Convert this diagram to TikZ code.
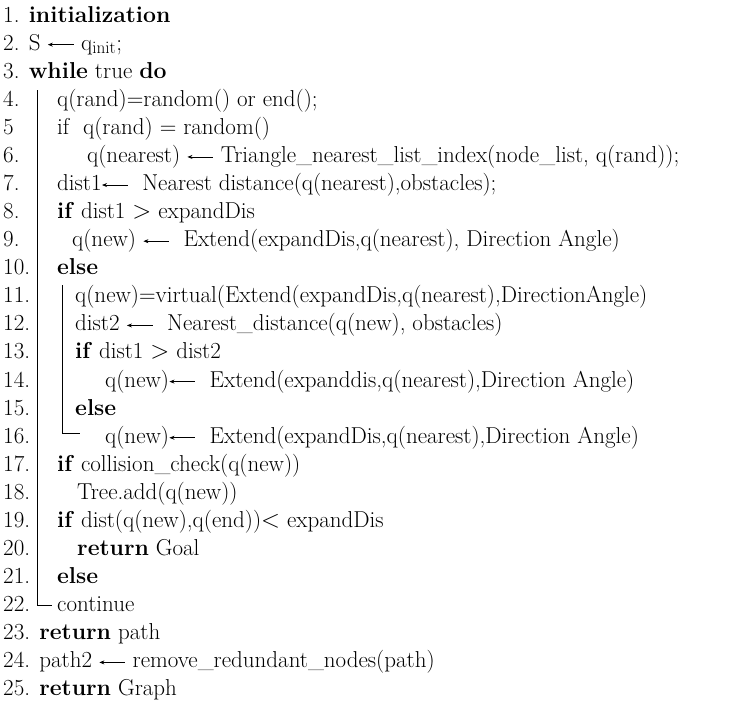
\documentclass[tikz,border=0pt]{standalone}
\usetikzlibrary{arrows.meta}
\newcommand\myarr{\tikz[baseline=-0.55ex]\draw[{Stealth[length=5pt,width=4pt]}-,line width=0.7pt](0,0)--(26pt,0);}
\begin{document}
\begin{tikzpicture}[x=1pt,y=1pt,
  ln/.style={anchor=base west,inner sep=0pt,font=\fontsize{23}{27}\selectfont},
  bar/.style={line width=0.6pt}]
\useasboundingbox (0,0) rectangle (738,-705);
\newcommand\algline[3]{\node[ln] (l#1) at (#2,{-22-28.08*(#1-1)}) {#3};}
\algline{1}{3}{1. \textbf{initialization}}
\algline{2}{3}{2. S \myarr\ q$_{\mathrm{init}}$;}
\algline{3}{3}{3. \textbf{while} true \textbf{do}}
\foreach \i/\t in {4/4.,5/5,6/6.,7/7.,8/8.,9/9.,10/10.,11/11.,12/12.,13/13.,14/14.,15/15.,16/16.,17/17.,18/18.,19/19.,20/20.,21/21.,22/22.}{
  \node[ln] at (3,{-22-28.08*(\i-1)}) {\t};}
\algline{4}{57}{q(rand)=random() or end();}
\algline{5}{57}{if\ \ q(rand) = random()}
\algline{6}{87}{q(nearest)\ \myarr\ Triangle\_nearest\_list\_index(node\_list, q(rand));}
\algline{7}{57}{dist1\myarr\ \ Nearest distance(q(nearest),obstacles);}
\algline{8}{57}{\textbf{if} dist1 $>$ expandDis}
\algline{9}{72}{q(new)\ \myarr\ \ Extend(expandDis,q(nearest), Direction Angle)}
\algline{10}{57}{\textbf{else}}
\algline{11}{75}{q(new)=virtual(Extend(expandDis,q(nearest),DirectionAngle)}
\algline{12}{75}{dist2\ \myarr\ \ Nearest\_distance(q(new), obstacles)}
\algline{13}{75}{\textbf{if} dist1 $>$ dist2}
\algline{14}{105}{q(new)\myarr\ \ Extend(expanddis,q(nearest),Direction Angle)}
\algline{15}{75}{\textbf{else}}
\algline{16}{105}{q(new)\myarr\ \ Extend(expandDis,q(nearest),Direction Angle)}
\algline{17}{57}{\textbf{if} collision\_check(q(new))}
\algline{18}{77}{Tree.add(q(new))}
\algline{19}{57}{\textbf{if} dist(q(new),q(end))$<$ expandDis}
\algline{20}{77}{\textbf{return} Goal}
\algline{21}{57}{\textbf{else}}
\algline{22}{57}{continue}
\algline{23}{3}{23. \textbf{return} path}
\algline{24}{3}{24. path2\ \myarr\ remove\_redundant\_nodes(path)}
\algline{25}{3}{25. \textbf{return} Graph}
\coordinate (a1) at (37,-90);
\coordinate (a2) at (37,-605);
\coordinate (a3) at (52,-605);
\draw[bar] (a1) -- (a2) -- (a3);
\coordinate (b1) at (62,-285);
\coordinate (b2) at (62,-433);
\coordinate (b3) at (80,-433);
\draw[bar] (b1) -- (b2) -- (b3);
\end{tikzpicture}
\end{document}
